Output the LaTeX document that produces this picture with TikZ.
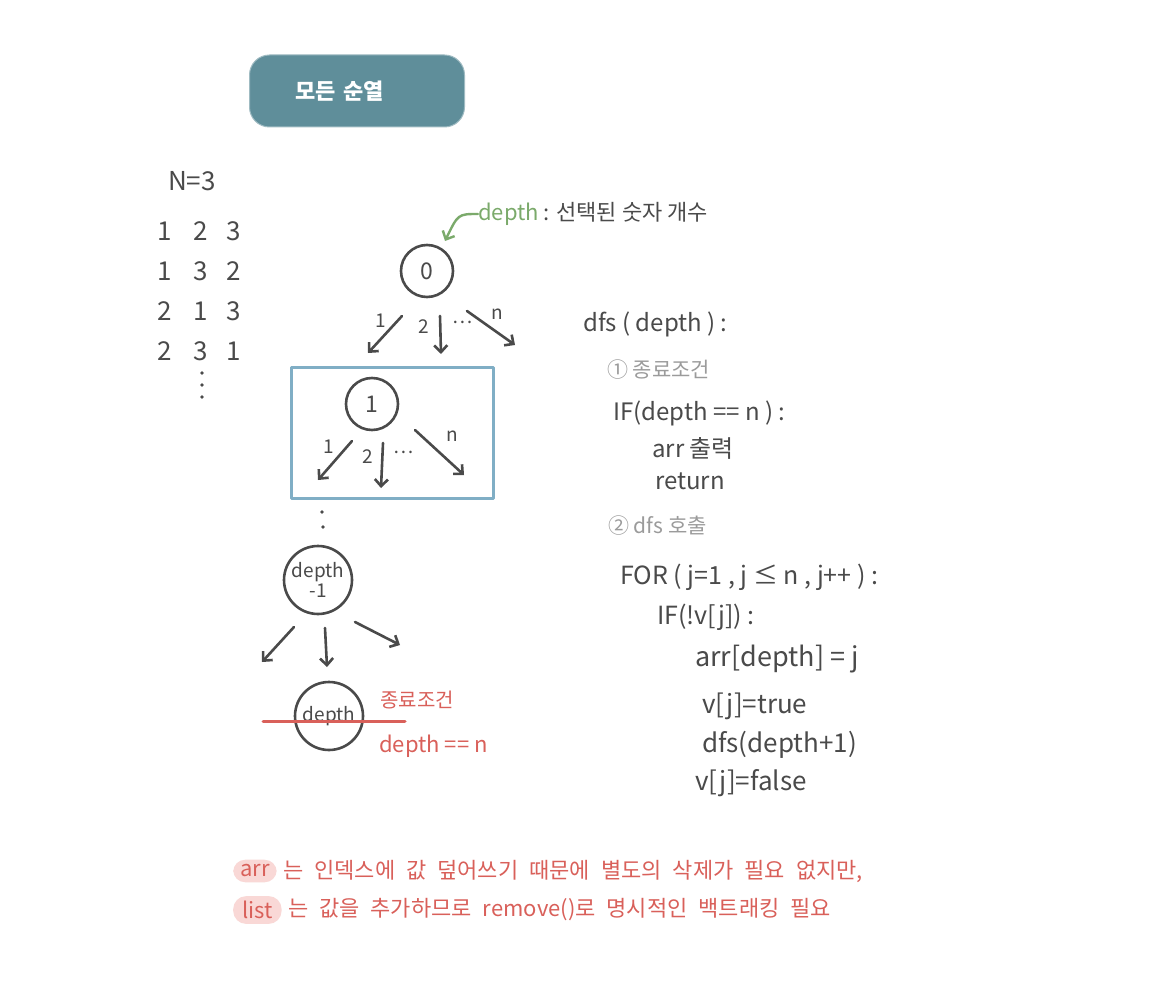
\documentclass[tikz,border=0pt]{standalone}
\usepackage{fontspec}
\setmainfont{Noto Sans CJK KR}
\usepackage{tikz}
\usetikzlibrary{arrows.meta}
\usepackage{xcolor}
\definecolor{ink}{HTML}{4A4A4A}
\definecolor{titlefill}{HTML}{5F8E9A}
\definecolor{boxblue}{HTML}{80AEC5}
\definecolor{pengreen}{HTML}{7BAA6B}
\definecolor{penred}{HTML}{D9605A}
\definecolor{pengray}{HTML}{9B9B9B}
\definecolor{highlight}{HTML}{F9D8D6}
\newcommand{\widespaces}{\spaceskip=11pt plus 2pt minus 1pt}

\begin{document}
\begin{tikzpicture}[x=1pt,y=-1pt,>={Straight Barb[length=2.4mm,width=4.6mm]},line cap=round,line join=round,
  state/.style={circle,draw=ink,line width=2.6pt,minimum size=52pt,inner sep=0pt,text=ink,font=\fontsize{19}{20}\selectfont,align=center},
  tree/.style={->,draw=ink,line width=2.6pt},
  edgelbl/.style={text=ink,inner sep=0pt,font=\fontsize{19}{19}\selectfont},
  permnum/.style={text=ink,inner sep=0pt,font=\fontsize{26}{26}\selectfont},
  code/.style={anchor=west,text=ink,inner sep=0pt,font=\fontsize{24}{27}\selectfont},
  codehead/.style={code,text=pengray,font=\fontsize{21}{24}\selectfont},
  note/.style={anchor=west,text=penred,inner sep=0pt,font=\fontsize{22}{24}\selectfont}]
\useasboundingbox[fill=white] (0,0) rectangle (1169,1000);

% title
\node[anchor=west,fill=titlefill,draw=titlefill!60!white,line width=1pt,rounded corners=20pt,
  minimum height=72pt,inner xsep=46pt,text width=123pt,text=white,font=\bfseries\fontsize{22}{24}\selectfont]
  (title) at (249,91) {모든 순열};

% all permutations for N=3
\node[permnum] (nlabel) at (192,181) {N=3};
\foreach \a/\b/\c [count=\r] in {1/2/3,1/3/2,2/1/3,2/3/1} {
  \node[permnum] (perm-\r-1) at (165,191+40*\r) {\a};
  \node[permnum] (perm-\r-2) at (201,191+40*\r) {\b};
  \node[permnum] (perm-\r-3) at (234,191+40*\r) {\c};
}
\foreach \y in {373,385,397}
  \fill[ink] (202,\y) circle (1.8pt);

% depth note
\node[anchor=west,inner sep=0pt,font=\fontsize{22}{24}\selectfont] (depthnote) at (478,214)
  {\textcolor{pengreen}{depth}\ \textcolor{ink}{: 선택된 숫자 개수}};
\coordinate (depthtip) at (445,241);
\draw[->,pengreen,line width=2.4pt] (depthnote.west) .. controls (458,214) .. (depthtip);

% recursion tree
\node[state,font=\fontsize{23}{23}\selectfont] (n0) at (427,271) {0};
\coordinate (n0s1) at (402,316); \coordinate (n0e1) at (368,353);
\coordinate (n0s2) at (440,316); \coordinate (n0e2) at (441,354);
\coordinate (n0sn) at (467,311); \coordinate (n0en) at (515,345);
\draw[tree] (n0s1) -- (n0e1);
\draw[tree] (n0s2) -- (n0e2);
\draw[tree] (n0sn) -- (n0en);
\node[edgelbl] (n0l1) at (381,321) {1};
\node[edgelbl] (n0l2) at (424,327) {2};
\node[edgelbl] (n0ld) at (463,322) {…};
\node[edgelbl] (n0ln) at (497,314) {n};

\node[draw=boxblue,line width=3pt,minimum width=202pt,minimum height=131pt,inner sep=0pt] (branchbox) at (392,432.5) {};
\node[state,font=\fontsize{23}{23}\selectfont] (n1) at (372,404) {1};
\coordinate (n1s1) at (352,441); \coordinate (n1e1) at (318,480);
\coordinate (n1s2) at (383,443); \coordinate (n1e2) at (381,488);
\coordinate (n1sn) at (415,430); \coordinate (n1en) at (464,475);
\draw[tree] (n1s1) -- (n1e1);
\draw[tree] (n1s2) -- (n1e2);
\draw[tree] (n1sn) -- (n1en);
\node[edgelbl] (n1l1) at (329,447) {1};
\node[edgelbl] (n1l2) at (368,457) {2};
\node[edgelbl] (n1ld) at (404,452) {…};
\node[edgelbl] (n1ln) at (452,436) {n};

\fill[ink] (322,512) circle (1.8pt);
\fill[ink] (323,527) circle (1.8pt);

\node[state,minimum size=68pt] (nprev) at (318,580) {depth\\-1};
\coordinate (nps1) at (294,627); \coordinate (npe1) at (262,662);
\coordinate (nps2) at (325,628); \coordinate (npe2) at (327,667);
\coordinate (npsn) at (355,622); \coordinate (npen) at (400,645);
\draw[tree] (nps1) -- (npe1);
\draw[tree] (nps2) -- (npe2);
\draw[tree] (npsn) -- (npen);

\node[state,minimum size=68pt] (nlast) at (329,716) {depth};
\draw[penred,line width=3pt] (263,721) -- (405,721);
\node[note,font=\fontsize{20}{22}\selectfont] (stoplbl) at (380,700) {종료조건};
\node[note] (stopcond) at (379,746) {depth == n};

% pseudo code
\node[code] (c1) at (583,324) {dfs ( depth ) :};
\node[codehead] (c2) at (607,370) {① 종료조건};
\node[code] (c3) at (613,413) {IF(depth == n ) :};
\node[code] (c4) at (652,448) {arr 출력};
\node[code] (c5) at (655,481) {return};
\node[codehead] (c6) at (608,526) {② dfs 호출};
\node[code,font=\fontsize{25}{28}\selectfont] (c7) at (620,577) {FOR ( j=1 , j ≤ n , j++ ) :};
\node[code,font=\fontsize{25}{28}\selectfont] (c8) at (657,617) {IF(!v[j]) :};
\node[code,font=\fontsize{27}{30}\selectfont] (c9) at (695,659) {arr[depth] = j};
\node[code,font=\fontsize{26}{29}\selectfont] (c10) at (702,706) {v[j]=true};
\node[code,font=\fontsize{26}{29}\selectfont] (c11) at (702,745) {dfs(depth+1)};
\node[code,font=\fontsize{26}{29}\selectfont] (c12) at (695,783) {v[j]=false};

% bottom remark
\node[note,fill=highlight,rounded corners=12pt,inner xsep=7pt,inner ysep=5pt] (arrword) at (233,871) {arr};
\node[note] (remark1) at ([xshift=6pt]arrword.east) {\widespaces 는 인덱스에 값 덮어쓰기 때문에 별도의 삭제가 필요 없지만,};
\node[note,fill=highlight,rounded corners=13pt,inner xsep=9pt,inner ysep=5pt] (listword) at (233,910) {list};
\node[note] (remark2) at ([xshift=6pt]listword.east) {\widespaces 는 값을 추가하므로 remove()로 명시적인 백트래킹 필요};
\end{tikzpicture}
\end{document}
